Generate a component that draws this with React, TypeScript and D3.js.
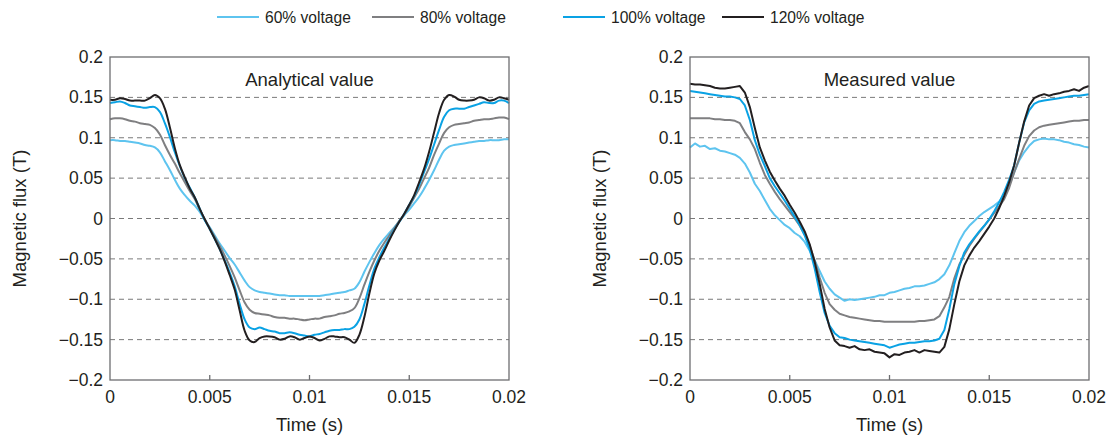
import React from "react";
import * as d3 from "d3";

// Sample times (ms)
const timeMs = [
  0, 0.25, 0.5, 0.75, 1, 1.25, 1.5, 1.75, 2, 2.25, 2.5, 2.75, 3, 3.25, 3.5, 3.75,
  4, 4.25, 4.5, 4.75, 5, 5.25, 5.5, 5.75, 6, 6.25, 6.5, 6.75, 7, 7.25, 7.5, 7.75,
  8, 8.25, 8.5, 8.75, 9, 9.25, 9.5, 9.75, 10, 10.25, 10.5, 10.75, 11, 11.25, 11.5, 11.75,
  12, 12.25, 12.5, 12.75, 13, 13.25, 13.5, 13.75, 14, 14.25, 14.5, 14.75, 15, 15.25, 15.5, 15.75,
  16, 16.25, 16.5, 16.75, 17, 17.25, 17.5, 17.75, 18, 18.25, 18.5, 18.75, 19, 19.25, 19.5, 19.75, 20,
];

// Analytical values (T)
const ana60 = [
  0.097, 0.097, 0.096, 0.096, 0.095, 0.094, 0.093, 0.091, 0.09, 0.088, 0.082, 0.071, 0.06, 0.048, 0.037, 0.029,
  0.022, 0.016, 0.008, -0.002, -0.011, -0.021, -0.031, -0.04, -0.049, -0.057, -0.067, -0.077, -0.085, -0.089, -0.091, -0.092,
  -0.093, -0.094, -0.095, -0.095, -0.096, -0.096, -0.096, -0.096, -0.096, -0.096, -0.096, -0.095, -0.094, -0.093, -0.092, -0.091,
  -0.089, -0.087, -0.079, -0.066, -0.054, -0.043, -0.033, -0.025, -0.018, -0.011, -0.004, 0.004, 0.011, 0.019, 0.027, 0.037,
  0.048, 0.06, 0.073, 0.084, 0.089, 0.091, 0.092, 0.093, 0.094, 0.095, 0.096, 0.096, 0.097, 0.097, 0.097, 0.098, 0.098,
];
const ana80 = [
  0.123, 0.124, 0.124, 0.123, 0.121, 0.12, 0.118, 0.117, 0.116, 0.112, 0.104, 0.091, 0.079, 0.068, 0.056, 0.045,
  0.034, 0.024, 0.011, -0.001, -0.012, -0.023, -0.034, -0.046, -0.059, -0.073, -0.089, -0.104, -0.113, -0.117, -0.118, -0.119,
  -0.12, -0.122, -0.123, -0.123, -0.124, -0.124, -0.125, -0.126, -0.125, -0.124, -0.124, -0.122, -0.121, -0.12, -0.118, -0.117,
  -0.115, -0.111, -0.099, -0.082, -0.066, -0.052, -0.04, -0.03, -0.021, -0.012, -0.003, 0.005, 0.015, 0.026, 0.037, 0.05,
  0.063, 0.079, 0.093, 0.106, 0.113, 0.116, 0.117, 0.118, 0.119, 0.121, 0.122, 0.123, 0.123, 0.124, 0.125, 0.125, 0.123,
];
const ana100 = [
  0.143, 0.144, 0.145, 0.143, 0.14, 0.139, 0.138, 0.137, 0.138, 0.138, 0.132, 0.118, 0.101, 0.082, 0.065, 0.05,
  0.038, 0.026, 0.012, -0.002, -0.013, -0.025, -0.038, -0.052, -0.067, -0.084, -0.106, -0.125, -0.135, -0.137, -0.135, -0.137,
  -0.139, -0.14, -0.142, -0.142, -0.141, -0.142, -0.144, -0.145, -0.146, -0.144, -0.143, -0.141, -0.139, -0.138, -0.138, -0.137,
  -0.137, -0.134, -0.125, -0.106, -0.083, -0.062, -0.048, -0.036, -0.025, -0.014, -0.004, 0.006, 0.017, 0.028, 0.042, 0.058,
  0.074, 0.092, 0.11, 0.126, 0.134, 0.136, 0.136, 0.136, 0.138, 0.14, 0.142, 0.144, 0.143, 0.143, 0.146, 0.146, 0.143,
];
const ana120 = [
  0.147, 0.147, 0.149, 0.148, 0.146, 0.146, 0.146, 0.146, 0.149, 0.153, 0.149, 0.136, 0.113, 0.087, 0.066, 0.051,
  0.037, 0.026, 0.012, -0.001, -0.013, -0.025, -0.038, -0.053, -0.07, -0.088, -0.114, -0.139, -0.151, -0.153, -0.148, -0.146,
  -0.146, -0.147, -0.15, -0.149, -0.146, -0.147, -0.15, -0.148, -0.146, -0.148, -0.151, -0.149, -0.146, -0.146, -0.147, -0.147,
  -0.15, -0.154, -0.144, -0.122, -0.093, -0.068, -0.052, -0.04, -0.027, -0.015, -0.004, 0.006, 0.017, 0.029, 0.045, 0.062,
  0.083, 0.107, 0.131, 0.147, 0.153, 0.151, 0.147, 0.146, 0.146, 0.147, 0.15, 0.149, 0.146, 0.147, 0.15, 0.149, 0.147,
];

// Measured values (T)
const mea60 = [
  0.088, 0.093, 0.089, 0.09, 0.086, 0.087, 0.084, 0.083, 0.081, 0.079, 0.075, 0.068, 0.057, 0.043, 0.034, 0.023,
  0.012, 0.004, -0.002, -0.008, -0.012, -0.018, -0.022, -0.029, -0.04, -0.052, -0.065, -0.078, -0.087, -0.094, -0.098, -0.102,
  -0.1, -0.101, -0.1, -0.099, -0.098, -0.097, -0.095, -0.095, -0.092, -0.091, -0.089, -0.087, -0.086, -0.084, -0.084, -0.083,
  -0.081, -0.079, -0.075, -0.069, -0.058, -0.043, -0.028, -0.017, -0.009, -0.003, 0.003, 0.008, 0.012, 0.016, 0.021, 0.029,
  0.041, 0.057, 0.072, 0.082, 0.09, 0.096, 0.098, 0.099, 0.098, 0.098, 0.097, 0.095, 0.094, 0.092, 0.091, 0.089, 0.088,
];
const mea80 = [
  0.124, 0.124, 0.124, 0.124, 0.124, 0.123, 0.123, 0.122, 0.122, 0.121, 0.118, 0.107, 0.098, 0.086, 0.069, 0.054,
  0.043, 0.033, 0.024, 0.016, 0.008, 0.0, -0.009, -0.02, -0.034, -0.052, -0.073, -0.092, -0.106, -0.113, -0.118, -0.12,
  -0.122, -0.123, -0.124, -0.125, -0.126, -0.127, -0.127, -0.128, -0.128, -0.128, -0.128, -0.128, -0.128, -0.128, -0.127, -0.127,
  -0.126, -0.125, -0.121, -0.11, -0.097, -0.074, -0.057, -0.045, -0.034, -0.025, -0.017, -0.009, -0.001, 0.007, 0.015, 0.024,
  0.038, 0.057, 0.074, 0.09, 0.102, 0.109, 0.113, 0.115, 0.116, 0.117, 0.118, 0.119, 0.12, 0.121, 0.121, 0.122, 0.122,
];
const mea100 = [
  0.158, 0.157, 0.156, 0.155, 0.154, 0.153, 0.152, 0.151, 0.151, 0.15, 0.148, 0.14, 0.122, 0.097, 0.079, 0.065,
  0.05, 0.04, 0.031, 0.022, 0.012, 0.002, -0.008, -0.021, -0.038, -0.062, -0.091, -0.117, -0.133, -0.142, -0.147, -0.148,
  -0.15, -0.151, -0.152, -0.153, -0.154, -0.155, -0.156, -0.157, -0.16, -0.158, -0.156, -0.155, -0.154, -0.154, -0.153, -0.152,
  -0.152, -0.151, -0.149, -0.138, -0.112, -0.081, -0.059, -0.042, -0.032, -0.024, -0.016, -0.009, -0.001, 0.009, 0.02, 0.033,
  0.048, 0.066, 0.094, 0.119, 0.134, 0.142, 0.145, 0.146, 0.147, 0.148, 0.149, 0.15, 0.151, 0.152, 0.152, 0.153, 0.154,
];
const mea120 = [
  0.167, 0.166, 0.166, 0.165, 0.164, 0.162, 0.161, 0.161, 0.162, 0.163, 0.164, 0.156, 0.138, 0.112, 0.088, 0.072,
  0.058, 0.047, 0.037, 0.028, 0.017, 0.007, -0.004, -0.016, -0.032, -0.054, -0.081, -0.112, -0.135, -0.151, -0.157, -0.158,
  -0.16, -0.158, -0.162, -0.163, -0.162, -0.165, -0.166, -0.167, -0.172, -0.168, -0.169, -0.166, -0.165, -0.163, -0.166, -0.163,
  -0.164, -0.165, -0.166, -0.159, -0.137, -0.106, -0.078, -0.058, -0.046, -0.036, -0.028, -0.019, -0.01, 0.0, 0.013, 0.028,
  0.045, 0.066, 0.094, 0.12, 0.14, 0.149, 0.152, 0.154, 0.152, 0.154, 0.155, 0.157, 0.158, 0.16, 0.158, 0.162, 0.164,
];

const seriesNames = ["60% voltage", "80% voltage", "100% voltage", "120% voltage"];
const seriesColors = ["#5ec4ef", "#7f7f81", "#0aa2e4", "#231f20"];
const xTicks = [0, 0.005, 0.01, 0.015, 0.02];
const yTicks = [0.2, 0.15, 0.1, 0.05, 0, -0.05, -0.1, -0.15, -0.2];
const panelTitles = ["Analytical value", "Measured value"];

const FONT = "'Liberation Sans', Arial, Helvetica, sans-serif";
const TEXT = "#231f20";
const TICK_FS = 17.5;
const LABEL_FS = 18.5;

function fmt(v: number) {
  if (v === 0) return "0";
  return (v < 0 ? "\u2212" : "") + String(Math.abs(v));
}

function Panel({ left, title, data, smooth }: { left: number; title: string; data: number[][]; smooth: boolean }) {
  const width = 399;
  const top = 57;
  const bottom = 380;
  const x = d3.scaleLinear().domain([0, 0.02]).range([left, left + width]);
  const y = d3.scaleLinear().domain([-0.2, 0.2]).range([bottom, top]);
  const line = d3
    .line<number>()
    .x((_, i) => x(timeMs[i] / 1000))
    .y((d) => y(d))
    .curve(smooth ? d3.curveCatmullRom.alpha(0.5) : d3.curveLinear);
  return (
    <g>
      {yTicks
        .filter((t) => Math.abs(t) < 0.2)
        .map((t) => (
          <line key={t} x1={left} x2={left + width} y1={y(t)} y2={y(t)} stroke="#7a7a7a" strokeWidth={1} strokeDasharray="5,4" />
        ))}
      {data.map((s, i) => (
        <path key={i} d={line(s) || ""} fill="none" stroke={seriesColors[i]} strokeWidth={2} strokeLinejoin="round" />
      ))}
      <rect x={left} y={top} width={width} height={bottom - top} fill="none" stroke="#6d6e70" strokeWidth={1.3} />
      {xTicks.map((t) => (
        <g key={t}>
          {t > 0 && t < 0.02 && <line x1={x(t)} x2={x(t)} y1={bottom} y2={bottom - 5} stroke="#6d6e70" strokeWidth={1.3} />}
          <text x={x(t)} y={bottom + 23} textAnchor="middle" fontSize={TICK_FS} fill={TEXT} fontFamily={FONT}>
            {fmt(t)}
          </text>
        </g>
      ))}
      {yTicks.map((t) => (
        <text key={t} x={left - 7} y={y(t) + 6} textAnchor="end" fontSize={TICK_FS} fill={TEXT} fontFamily={FONT}>
          {fmt(t)}
        </text>
      ))}
      <text x={left + width / 2} y={86} textAnchor="middle" fontSize={LABEL_FS} fill={TEXT} fontFamily={FONT}>
        {title}
      </text>
      <text x={left + width / 2} y={431} textAnchor="middle" fontSize={LABEL_FS} fill={TEXT} fontFamily={FONT}>
        Time (s)
      </text>
      <text
        transform={`translate(${left - 84},${(top + bottom) / 2}) rotate(-90)`}
        textAnchor="middle"
        fontSize={LABEL_FS}
        fill={TEXT}
        fontFamily={FONT}
      >
        Magnetic flux (T)
      </text>
    </g>
  );
}

const legendPos = [217, 372, 563, 722];

export default function App() {
  return (
    <svg width={1112} height={436} style={{ position: "absolute", left: 0, top: 0, background: "#fff" }}>
      <rect width={1112} height={436} fill="#fff" />
      {seriesNames.map((n, i) => (
        <g key={n}>
          <line x1={legendPos[i]} x2={legendPos[i] + 42} y1={17} y2={17} stroke={seriesColors[i]} strokeWidth={2} />
          <text x={legendPos[i] + 48} y={22.5} fontSize={15.6} fill={TEXT} fontFamily={FONT}>
            {n}
          </text>
        </g>
      ))}
      <Panel left={110} title={panelTitles[0]} data={[ana60, ana80, ana100, ana120]} smooth={true} />
      <Panel left={690} title={panelTitles[1]} data={[mea60, mea80, mea100, mea120]} smooth={false} />
    </svg>
  );
}
